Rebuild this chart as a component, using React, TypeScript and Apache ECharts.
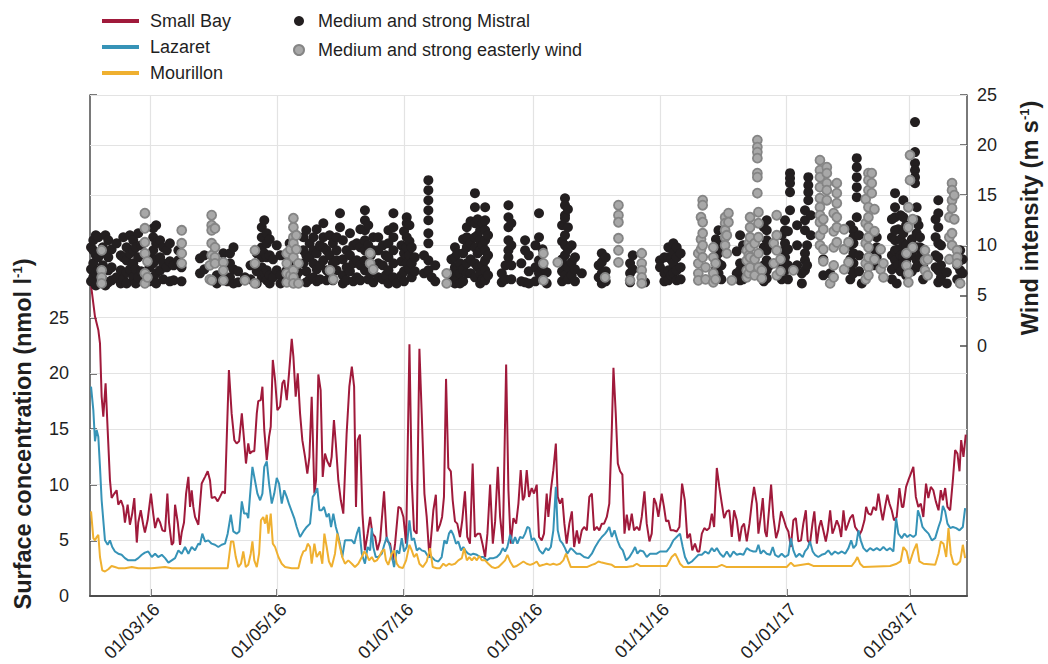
import React, { useEffect, useRef } from "react";
import * as echarts from "echarts";

// ---------- data ----------
// day offsets are counted from 01/02/2016 (UTC)
const START_DATE = "2016-02-01";
const X_MAX_DAYS = 421.7;

const xTickDates = ["2016-03-01", "2016-05-01", "2016-07-01", "2016-09-01", "2016-11-01", "2017-01-01", "2017-03-01"];
const leftTickValues = [0, 5, 10, 15, 20, 25];
const leftTickMarks = [0, 5, 10, 15, 20, 25, 45];
const leftGridValues = [5, 10, 15, 20, 25];
const rightTickValues = [0, 5, 10, 15, 20, 25];
const rightGridValues = [10, 15, 20, 25];

const seriesNames = ["Small Bay", "Lazaret", "Mourillon"];
const windNames = ["Medium and strong Mistral", "Medium and strong easterly wind"];

// [day, nmol l-1]
const smallBay: [number, number][] = [
  [0.5,27.9],[2.4,25.1],[4.0,23.9],[4.8,22.7],[5.6,17.9],[6.4,16.1],[7.5,19.1],[8.5,14.9],[9.6,10.4],[10.4,8.8],
  [11.7,9.2],[12.8,9.5],[13.6,8.2],[14.9,8.6],[16.0,8.0],[16.8,6.6],[18.1,8.2],[19.2,6.4],[20.3,7.4],[21.3,8.8],
  [22.5,4.8],[23.2,6.6],[24.4,7.7],[25.6,6.4],[26.4,5.7],[27.7,6.8],[29.3,9.2],[30.4,7.4],[31.3,6.1],[32.6,7.0],
  [33.7,6.6],[34.8,5.9],[36.1,5.8],[37.2,9.2],[38.0,6.6],[39.3,4.6],[40.1,4.8],[40.9,8.2],[42.2,6.6],[43.3,4.6],
  [44.1,5.7],[45.2,6.6],[46.2,9.2],[47.3,10.7],[48.1,8.0],[48.9,9.5],[49.7,8.0],[50.5,7.1],[52.1,6.4],[53.7,10.1],
  [55.3,10.7],[56.6,11.2],[57.7,10.4],[58.5,8.8],[60.1,8.9],[61.4,8.5],[62.5,8.9],[63.8,9.4],[64.9,9.2],[66.8,20.3],
  [68.1,16.4],[69.4,14.0],[70.5,13.7],[71.7,13.9],[73.0,16.4],[74.1,14.0],[75.0,11.9],[76.1,13.7],[76.9,12.8],[78.1,13.0],
  [79.0,13.0],[80.2,16.4],[80.9,17.5],[82.1,17.6],[82.9,18.8],[83.8,14.9],[85.0,12.2],[86.1,14.3],[86.9,15.2],[87.9,21.2],
  [89.0,19.4],[90.1,16.7],[91.4,17.0],[92.5,19.1],[93.4,19.4],[94.6,17.6],[95.7,20.0],[97.0,23.1],[97.8,21.5],[98.9,17.9],
  [99.9,20.0],[101.0,16.4],[102.1,14.0],[103.4,12.5],[104.5,11.0],[105.5,12.5],[106.6,17.9],[107.9,9.2],[108.7,10.4],[109.8,19.9],
  [110.9,18.5],[111.9,10.7],[113.0,12.8],[114.1,12.1],[115.4,11.6],[116.2,12.5],[117.3,15.8],[118.2,13.7],[119.4,10.4],[120.6,8.6],
  [121.8,7.4],[123.4,14.6],[124.7,18.8],[125.9,20.6],[127.0,18.8],[127.9,8.0],[128.7,14.0],[129.8,14.5],[131.0,7.4],[132.2,4.1],
  [133.5,5.6],[134.7,7.1],[135.8,5.6],[137.1,5.3],[138.2,4.1],[139.5,5.0],[141.4,9.4],[142.7,5.0],[144.3,4.7],[145.6,3.2],
  [146.7,4.7],[148.3,8.0],[149.4,7.9],[150.7,7.1],[152.0,4.7],[153.6,22.6],[154.7,10.4],[155.8,5.9],[157.1,5.6],[158.4,22.2],
  [159.5,16.4],[160.8,9.2],[161.9,7.1],[163.2,3.5],[164.3,5.9],[165.1,7.7],[166.3,9.1],[167.0,5.8],[168.3,6.4],[169.3,7.1],
  [170.2,8.9],[171.2,19.5],[172.3,11.5],[173.5,11.2],[174.4,8.6],[175.5,6.7],[176.6,6.5],[177.9,5.3],[179.0,6.8],[180.3,9.4],
  [181.4,5.3],[182.7,4.7],[184.0,11.9],[185.1,5.3],[186.4,5.6],[187.6,5.6],[188.7,4.7],[190.0,3.5],[191.1,5.6],[192.4,10.0],
  [193.7,4.7],[194.8,6.7],[196.1,11.6],[197.2,7.1],[198.5,4.7],[200.1,20.8],[201.2,9.5],[202.3,4.7],[203.6,7.0],[204.9,6.5],
  [206.0,8.3],[207.1,11.3],[208.1,8.6],[208.9,8.9],[210.0,11.3],[211.1,8.9],[212.4,9.7],[213.5,9.2],[214.8,10.0],[215.9,5.3],
  [217.2,5.0],[218.3,5.6],[219.6,9.2],[220.4,7.1],[221.6,9.5],[222.8,11.3],[224.0,13.7],[224.9,8.9],[226.0,8.3],[227.1,8.8],
  [228.1,6.5],[229.2,4.7],[230.5,6.5],[231.7,7.6],[232.8,4.4],[234.1,5.9],[235.2,4.7],[236.5,5.9],[237.6,6.2],[238.9,5.9],
  [240.1,8.9],[241.3,9.2],[242.4,5.9],[243.7,6.2],[244.9,5.9],[246.1,6.5],[247.2,6.5],[248.5,7.1],[249.7,8.3],[250.9,14.9],
  [251.7,20.5],[252.8,16.4],[253.8,11.9],[254.9,11.2],[256.0,10.9],[257.0,5.6],[258.1,7.3],[259.2,5.9],[260.5,7.4],[261.6,5.9],
  [262.9,6.2],[264.2,5.9],[265.3,7.1],[266.6,9.4],[267.7,6.5],[269.0,4.9],[270.1,5.6],[271.2,8.8],[272.2,8.3],[273.3,7.1],
  [274.9,9.2],[276.0,8.0],[277.0,6.7],[278.1,6.8],[279.2,5.9],[280.5,5.9],[282.1,5.8],[283.4,6.2],[284.7,10.1],[286.0,8.6],
  [287.2,5.2],[288.5,5.6],[289.6,4.1],[290.9,4.7],[292.1,4.0],[293.0,4.0],[294.2,5.6],[295.4,6.1],[296.6,5.9],[297.8,6.1],
  [299.0,7.4],[300.1,6.2],[301.4,11.5],[302.6,9.8],[303.8,8.3],[304.9,7.0],[306.2,7.6],[307.4,7.7],[308.6,5.3],[309.7,7.7],
  [311.0,6.8],[312.3,4.9],[313.4,6.2],[314.5,6.5],[315.8,4.9],[317.1,6.5],[318.2,8.3],[319.3,9.8],[320.6,8.3],[321.4,5.6],
  [322.5,7.1],[323.5,8.8],[324.6,5.8],[325.4,5.3],[326.5,7.7],[327.5,10.0],[328.6,7.1],[329.9,5.2],[331.0,5.9],[332.3,7.6],
  [333.4,7.0],[334.7,6.2],[335.8,5.8],[337.0,4.4],[338.2,6.8],[339.4,7.0],[340.6,4.9],[341.9,5.0],[343.0,6.5],[344.2,7.7],
  [345.1,5.0],[346.2,4.7],[347.4,6.5],[348.3,7.6],[349.5,4.7],[350.6,6.2],[351.5,6.8],[352.6,5.9],[353.8,4.9],[354.8,5.9],
  [355.9,7.7],[357.0,5.6],[358.0,6.1],[359.1,6.8],[360.3,6.2],[361.2,5.3],[362.3,7.7],[363.4,5.9],[364.4,6.4],[365.5,7.0],
  [366.8,7.3],[367.9,6.2],[369.0,5.9],[370.0,5.5],[371.1,5.9],[372.4,6.8],[373.2,8.0],[374.3,7.4],[375.6,7.3],[376.7,8.0],
  [378.0,7.7],[379.1,9.2],[380.3,7.7],[381.2,6.8],[382.3,8.0],[383.4,9.1],[384.4,8.3],[385.5,7.7],[386.6,6.8],[387.9,7.1],
  [389.2,9.7],[390.4,8.0],[391.1,8.0],[392.4,9.8],[393.5,10.4],[394.7,11.0],[395.9,11.6],[397.1,8.9],[398.3,8.0],[399.5,8.3],
  [400.7,7.1],[402.0,10.1],[403.1,8.8],[404.3,9.8],[405.5,9.5],[406.7,8.5],[408.0,7.7],[409.1,9.5],[410.1,8.6],[411.2,9.7],
  [412.3,8.0],[413.6,7.7],[414.9,10.4],[416.0,13.1],[417.1,12.8],[418.1,11.2],[418.9,14.0],[420.0,12.5],[421.1,14.5]
];

const lazaret: [number, number][] = [
  [0.5,18.8],[1.6,16.7],[2.4,13.9],[3.2,14.9],[4.0,14.3],[4.8,11.6],[5.6,8.6],[6.4,6.8],[7.2,5.0],[8.5,4.6],
  [9.6,5.0],[10.7,4.4],[12.0,4.0],[13.6,3.8],[15.2,3.7],[16.8,3.4],[18.4,3.2],[20.1,3.2],[21.6,3.2],[23.2,3.4],
  [24.9,3.7],[26.4,3.9],[28.0,4.0],[29.7,3.5],[31.3,3.8],[32.8,3.5],[34.5,3.7],[36.1,3.4],[37.7,3.0],[39.3,3.2],
  [40.9,3.4],[42.5,4.1],[44.1,3.8],[45.7,4.4],[47.3,3.8],[48.9,4.4],[50.5,4.1],[52.1,4.7],[52.9,4.6],[54.0,5.6],
  [55.3,4.9],[56.9,5.0],[58.5,4.7],[60.1,4.6],[61.7,4.4],[63.3,4.6],[64.9,4.7],[66.2,5.6],[67.7,7.3],[68.9,5.8],
  [70.5,5.6],[71.8,5.8],[73.0,8.5],[74.1,7.4],[75.4,7.4],[76.1,7.0],[76.9,8.9],[78.1,11.6],[79.3,10.4],[80.5,9.2],
  [81.8,8.6],[82.9,9.2],[83.8,11.6],[85.0,12.1],[86.1,10.1],[87.4,8.3],[88.6,9.2],[89.8,10.6],[90.9,10.1],[92.2,8.3],
  [93.4,9.5],[94.6,8.9],[95.8,8.2],[97.0,7.6],[98.2,7.0],[99.4,6.2],[101.0,5.3],[102.6,5.8],[104.2,6.2],[105.8,6.5],
  [107.1,8.9],[108.2,9.2],[109.3,9.7],[110.3,7.7],[111.4,7.7],[112.5,8.0],[113.8,7.1],[114.9,7.4],[115.9,6.2],[117.0,7.4],
  [118.2,6.2],[119.1,5.6],[120.2,4.7],[121.3,3.5],[122.6,5.0],[124.2,5.0],[125.9,5.0],[127.1,4.7],[128.3,5.6],[129.4,6.2],
  [130.7,3.8],[132.2,2.9],[133.5,4.4],[134.7,4.1],[135.5,6.1],[136.2,4.4],[137.4,3.5],[138.6,3.5],[140.3,3.8],[141.5,4.6],
  [142.7,5.3],[144.3,4.4],[146.2,2.6],[147.5,4.1],[148.7,3.8],[149.9,5.2],[151.0,4.0],[152.3,4.4],[153.6,6.8],[154.7,5.0],
  [155.8,5.2],[157.1,4.1],[158.4,4.3],[159.5,4.1],[161.1,4.0],[162.7,3.5],[164.3,3.5],[165.9,3.2],[167.5,3.1],[169.1,3.5],
  [170.4,5.0],[171.5,4.7],[172.6,5.6],[173.6,5.9],[174.7,5.5],[176.0,4.7],[177.1,4.9],[178.4,4.1],[179.5,4.4],[180.8,4.0],
  [181.9,3.8],[183.1,3.7],[184.3,3.8],[186.0,3.7],[187.6,3.5],[189.1,3.5],[190.8,3.2],[192.4,3.4],[194.0,3.4],[195.6,3.5],
  [197.2,3.8],[198.5,4.3],[199.6,4.0],[200.7,4.4],[202.0,5.5],[203.3,4.7],[204.4,5.3],[205.5,4.7],[206.8,5.3],[208.1,5.2],
  [209.2,5.6],[210.3,6.2],[211.3,6.1],[212.4,5.0],[213.5,5.2],[214.8,4.7],[216.1,4.1],[217.7,3.8],[219.3,4.3],[220.4,4.1],
  [221.6,4.4],[222.8,5.9],[224.0,9.8],[224.9,5.9],[226.0,5.0],[227.3,4.7],[228.4,4.3],[229.5,3.8],[231.2,4.3],[232.4,4.1],
  [234.0,3.8],[235.6,3.8],[237.6,3.5],[239.6,3.4],[241.3,3.8],[242.9,4.4],[244.5,4.9],[246.1,5.3],[247.7,5.6],[248.8,5.9],
  [249.7,6.2],[250.9,5.3],[252.2,5.9],[253.6,5.0],[254.9,4.4],[256.2,4.1],[257.8,3.2],[259.4,3.5],[261.0,4.0],[262.1,4.4],
  [263.2,3.8],[264.5,4.1],[266.1,4.0],[267.7,3.5],[269.3,3.8],[270.9,3.8],[272.5,3.8],[274.1,4.0],[275.7,4.0],[277.3,4.0],
  [278.9,4.4],[280.5,5.0],[282.1,5.3],[283.7,5.6],[285.0,4.4],[286.1,3.5],[287.7,2.9],[289.4,3.1],[291.0,3.4],[292.6,3.7],
  [294.2,3.7],[295.8,4.0],[297.4,3.8],[299.0,4.3],[300.2,4.0],[301.4,4.3],[303.0,3.8],[304.6,3.5],[306.2,4.0],[307.8,3.5],
  [309.4,4.0],[311.0,3.7],[312.6,3.8],[314.2,3.7],[315.8,4.3],[317.4,4.1],[319.0,4.0],[320.3,4.0],[321.4,4.6],[322.5,3.8],
  [323.8,4.1],[325.4,3.8],[327.0,3.7],[328.3,4.4],[329.4,3.7],[331.0,3.5],[332.6,3.8],[334.2,3.5],[335.8,3.7],[337.0,5.2],
  [338.2,4.1],[339.5,3.5],[341.1,3.8],[342.7,3.5],[343.8,4.0],[345.1,4.3],[346.2,4.9],[347.5,4.0],[348.6,3.7],[350.2,3.5],
  [351.8,3.7],[353.4,3.8],[355.0,4.1],[356.6,3.7],[358.2,4.0],[359.8,3.8],[361.5,4.0],[363.1,3.8],[364.7,4.3],[366.0,5.0],
  [367.1,4.3],[368.4,4.6],[369.5,5.9],[370.6,5.0],[371.9,4.3],[373.5,4.0],[375.1,4.3],[376.7,4.1],[378.3,4.3],[379.9,4.1],
  [381.5,4.4],[383.1,4.1],[384.7,4.3],[386.3,4.0],[387.6,7.0],[388.7,5.6],[390.3,5.2],[391.6,5.6],[393.0,5.3],[394.3,5.5],
  [395.9,5.3],[397.1,5.5],[398.1,7.7],[399.2,7.1],[400.3,6.2],[401.6,5.9],[403.2,5.6],[404.8,5.0],[406.4,5.2],[408.0,6.2],
  [409.1,6.8],[410.1,8.1],[411.2,7.6],[412.3,6.5],[413.6,6.1],[414.9,6.2],[416.5,6.1],[418.1,5.9],[419.7,6.2],[420.8,7.9]
];

const mourillon: [number, number][] = [
  [0.5,7.6],[1.6,5.2],[2.4,5.0],[3.2,5.3],[4.0,5.5],[4.8,3.5],[5.9,2.3],[7.2,2.2],[8.8,2.4],[10.4,2.7],
  [12.0,2.6],[13.6,2.5],[16.8,2.5],[20.1,2.6],[23.2,2.5],[29.7,2.5],[36.1,2.6],[39.3,2.5],[45.7,2.5],[52.1,2.5],
  [58.5,2.5],[63.3,2.5],[66.2,2.5],[67.8,4.9],[68.9,4.9],[70.1,3.5],[71.3,2.6],[72.6,2.9],[73.7,4.0],[74.9,2.6],
  [76.1,2.8],[77.3,3.8],[78.1,4.9],[79.0,3.2],[80.2,2.6],[81.3,3.8],[82.2,6.8],[83.3,7.1],[84.2,6.5],[85.0,7.3],
  [85.8,5.6],[86.9,7.4],[87.9,4.7],[89.0,4.4],[90.6,3.5],[92.2,2.9],[93.8,2.6],[97.0,2.5],[100.2,2.5],[101.5,3.5],
  [102.6,4.0],[103.7,4.1],[104.7,4.7],[105.8,4.4],[106.6,2.9],[107.9,4.7],[109.0,3.5],[110.6,4.0],[111.7,2.9],[112.7,5.6],
  [113.8,4.4],[114.9,3.1],[116.2,2.6],[117.8,3.8],[118.9,5.6],[120.2,4.4],[121.3,3.5],[122.6,2.9],[124.2,3.2],[125.9,2.9],
  [127.4,2.6],[129.0,2.9],[130.7,3.5],[131.9,4.0],[133.1,3.7],[134.2,3.2],[135.5,3.5],[136.7,3.1],[137.9,3.2],[139.0,3.5],
  [140.3,4.0],[141.5,4.2],[142.3,3.2],[143.4,2.8],[145.1,3.8],[146.2,4.1],[147.5,2.9],[148.7,2.6],[150.4,2.5],[152.0,3.2],
  [153.6,4.6],[154.7,4.1],[155.8,3.5],[157.1,3.8],[158.4,2.9],[160.0,2.6],[161.9,3.1],[163.5,4.3],[164.8,2.6],[166.7,2.5],
  [168.3,2.5],[169.9,2.9],[171.2,2.7],[172.6,2.9],[173.9,2.8],[175.5,2.9],[177.1,3.2],[178.8,3.4],[179.9,4.3],[181.2,3.2],
  [182.4,3.5],[183.6,3.2],[184.8,3.5],[186.0,3.2],[187.2,3.6],[188.4,3.2],[190.0,3.2],[191.5,2.9],[193.2,2.6],[194.8,2.5],
  [196.4,2.6],[198.0,2.9],[199.6,3.2],[200.7,3.7],[202.0,3.1],[203.6,2.6],[205.2,2.7],[206.8,2.9],[208.4,3.1],[210.0,2.9],
  [211.6,2.8],[213.2,2.9],[214.8,3.1],[216.1,2.7],[218.0,2.8],[219.6,2.9],[221.2,2.8],[222.8,2.9],[224.4,2.8],[226.0,2.9],
  [227.6,3.2],[228.9,3.8],[230.0,3.2],[231.2,2.6],[233.2,2.6],[235.6,2.6],[238.9,2.6],[241.3,2.8],[242.9,2.9],[244.5,3.1],
  [246.1,3.0],[248.5,2.9],[250.9,2.8],[252.5,2.6],[258.1,2.6],[261.3,2.7],[262.9,2.9],[264.5,2.7],[270.9,2.7],[277.3,2.7],
  [279.7,3.5],[281.4,3.8],[282.5,3.4],[283.7,2.9],[285.3,2.6],[294.9,2.6],[301.4,2.6],[303.8,2.8],[306.2,2.6],[320.6,2.6],
  [335.0,2.6],[337.0,3.0],[338.6,2.7],[345.4,2.9],[347.8,2.7],[366.3,2.7],[367.9,3.1],[369.0,3.5],[370.3,2.9],[371.9,2.6],
  [384.7,2.7],[387.9,2.9],[389.8,3.1],[391.1,4.4],[392.7,4.0],[394.0,2.9],[395.9,4.0],[397.5,4.7],[398.8,3.1],[400.7,2.9],
  [406.4,2.8],[408.0,3.8],[409.1,4.9],[410.4,4.7],[411.7,3.5],[412.8,6.1],[413.9,3.8],[415.2,2.9],[416.8,2.8],[418.4,3.1],
  [419.7,4.6],[420.8,3.4]
];

// wind: [day, [m s-1 values recorded that day]]
const mistral: [number, number[]][] = [
  [0.5,[9.8,7.6,6.4]],[1.6,[10.5,9.5,8.2,6.8]],[2.8,[11.0,9.0,7.2,6.0]],[4.0,[10.8,8.8,7.5]],[6.2,[9.8,8.0,6.6]],
  [7.4,[11.0,9.2,6.0]],[8.8,[10.5,8.8,7.5,6.3]],[10.4,[9.6,7.8,6.5]],[12.8,[10.2,6.8]],[14.8,[9.0,7.5,6.2]],
  [16.0,[10.8,8.8,6.6]],[17.6,[9.8,8.5,7.3,6.2]],[19.2,[11.0,9.2,7.6]],[20.8,[10.5,9.5,8.2,6.8]],[22.0,[9.8,7.6,6.2]],
  [23.2,[11.2,8.8,6.8]],[24.6,[10.0,7.4]],[28.6,[9.0,7.8,6.4]],[30.4,[11.7,10.8,9.5,8.2,6.8]],[31.8,[12.0,10.2,8.6,7.2,6.2]],
  [33.7,[10.5,8.8,7.5]],[35.2,[9.8,8.2,6.6]],[36.9,[9.5,7.8]],[38.4,[10.2,8.4,6.4]],[40.2,[8.0,6.5]],[42.5,[9.5,8.5]],
  [44.0,[7.8,6.4]],[52.9,[8.7,7.2]],[55.0,[9.0,7.6]],[61.0,[7.0,6.2]],[64.1,[9.2,6.8]],[66.0,[8.0,6.4]],[67.3,[9.2,8.2,6.8]],
  [69.0,[9.8,7.6,6.2]],[71.2,[7.4,6.3]],[74.5,[6.8]],[77.2,[8.0,6.6]],[80.2,[9.2,7.4,6.2]],
  [82.6,[11.8,10.8,9.8,8.8,7.8,6.8]],[83.8,[12.5,9.2,7.2]],[85.0,[11.2,10.2,8.8,7.5,6.5]],[86.4,[10.6,9.0,7.0,6.2]],
  [88.0,[8.6,6.8]],[89.8,[10.0,7.5]],[91.6,[9.0,7.0,6.2]],[94.6,[8.8,7.5]],[96.0,[10.2,8.0,6.6]],[99.0,[9.6,6.8]],[100.2,[7.3]],
  [102.6,[10.8,9.5,8.2]],[104.0,[11.5,9.0,7.4,6.3]],[105.6,[10.2,8.8,6.6]],[107.4,[10.8,9.5,8.2,6.8]],[109.0,[11.6,9.2,7.6,6.4]],
  [110.6,[10.0,8.0,6.6]],[112.2,[12.2,10.8,9.8,8.5]],[113.8,[9.5,7.5,6.5]],[115.2,[11.0,9.0,7.2]],[116.8,[10.2,8.2,6.5]],
  [118.6,[10.8,9.5,8.5,7.5]],[120.2,[13.2,11.8]],[121.6,[10.5,8.6,7.0,6.2]],[123.4,[9.5,7.8,6.5]],[125.0,[11.2,9.0,7.4]],
  [126.6,[10.0,8.2,6.4]],[128.3,[10.2,8.5,6.8]],[130.0,[11.6,9.8,8.0,6.5]],[132.2,[13.5,12.5,11.5,10.5,9.5,8.5,7.5]],
  [133.8,[12.0,10.0,8.0,6.6]],[135.0,[9.0,7.2]],[136.2,[10.8,9.5,7.8,6.3]],[138.6,[10.8,9.5,8.2,6.8]],[140.8,[10.0,8.0,6.6]],
  [142.2,[9.0,7.0]],[143.5,[11.5,10.2,8.8,7.5,6.2]],[145.9,[13.2,11.8,10.8,9.5,8.2,6.8]],[147.5,[6.2]],[149.8,[10.0,8.4,7.0]],
  [151.0,[11.4,9.2,7.4,6.4]],[152.3,[12.8,12.2,10.8,9.8,8.8,8.2]],[153.6,[12.0,10.4,9.0,7.6]],[154.7,[9.8,8.2,6.8]],
  [156.2,[8.8,7.4]],[160.6,[9.0,7.2]],[162.7,[16.5,15.5,14.5,13.5,12.5,11.2,10.2,8.5,7.5]],[164.3,[6.8]],[166.0,[8.0,6.4]],
  [173.8,[8.6,7.2,6.4]],[175.5,[9.8,8.8,7.8,6.8,6.2]],[176.6,[9.2,7.6,6.6]],[177.9,[8.2,7.2,6.2]],[179.4,[10.6,9.2,7.6,6.4]],
  [181.2,[11.8,10.8,9.8,8.2,7.2]],[183.0,[12.4,10.2,8.6,7.2]],[185.1,[15.2,13.8,12.2,10.8,9.8,8.2,6.8]],[186.4,[12.6,11.0,9.2,7.8]],
  [187.6,[11.5,10.5,9.5,7.2,6.2]],[188.8,[12.2,10.0,8.0,6.6]],[190.0,[13.8,12.5,11.5,10.5,9.5,8.5,7.5,6.5]],[191.4,[11.0,9.0,7.0]],
  [198.0,[7.2,6.3]],[199.8,[8.0,6.6]],[201.2,[14.0,12.8,11.8,10.5,9.5,8.8]],[202.6,[12.2,10.0,8.0,6.6]],[207.4,[8.2,6.4]],
  [209.2,[10.5,9.5,6.3]],[211.0,[9.0,7.4,6.2]],[214.2,[10.0,7.8,6.4]],[215.9,[13.2,10.8,8.5,7.2]],[217.6,[9.6,7.8]],
  [219.6,[7.3,6.2]],[227.0,[12.0,10.4,8.6,7.4,6.4]],[228.4,[14.7,14.0,13.0,12.7,11.0,10.0,9.0,8.0,7.0]],
  [229.8,[13.6,11.8,9.6,7.8,6.6]],[231.6,[10.0,8.3,7.0]],[233.2,[8.8,7.6,6.4]],[236.5,[7.2]],[244.6,[8.0,6.8]],
  [246.1,[9.2,8.3,7.2,6.2]],[248.0,[8.8,7.4,6.4]],[259.7,[8.2,7.2,6.3]],[261.0,[9.0,7.6]],[266.9,[6.3]],[274.1,[8.5,7.8]],
  [276.2,[8.8,7.2,6.4]],[278.1,[9.8,8.8,7.5,6.5]],[279.4,[8.6,7.0]],[280.5,[10.2,9.2,8.2,7.2]],[282.1,[9.8,8.8,7.5,6.5]],
  [284.0,[9.2,7.8,6.6]],[301.0,[10.6,8.8,7.6]],[302.2,[11.5,10.2,9.2,8.2,7.2]],[303.6,[9.6,8.0,6.6]],[311.0,[9.4,7.2]],
  [312.6,[11.0,8.2,7.5,6.5]],[314.0,[10.0,8.0,6.6]],[324.0,[11.8,9.8,8.0,6.4]],[325.4,[12.5,11.5,10.5,9.5,8.5,7.5,6.7]],
  [326.8,[10.0,8.0]],[332.6,[11.0,9.4,7.8,6.6]],[334.2,[12.5,11.5,10.2,8.8,8.2,7.5]],[335.6,[11.4,9.6,8.0,6.6]],
  [336.6,[17.2,16.7,16.2,15.3,13.5]],[340.0,[12.0,10.0,8.0]],[342.3,[7.2,6.2]],[343.8,[13.5,12.5,11.5,9.2,8.5,7.5]],
  [344.8,[10.0,8.0]],[345.4,[16.8,16.0,15.3,14.5]],[346.6,[13.0,11.0]],[352.6,[8.6,7.0]],[355.9,[7.2]],
  [365.6,[12.0,10.0,8.6,7.6,6.6]],[367.1,[11.5,10.8,10.2,9.2,8.2,7.2]],[368.7,[18.7,17.8,16.8,15.8,14.8,12.8]],
  [369.8,[11.0,9.0,7.4]],[371.1,[6.2]],[377.0,[9.6,8.0]],[378.3,[10.8,9.8,8.8]],[385.6,[12.6,10.8,9.0,7.6,6.6]],
  [387.1,[15.2,13.8,12.8,11.5,10.5,9.5,8.5,7.8]],[387.9,[6.2]],[388.6,[11.6,9.6,8.0]],[389.8,[13.0,10.6,9.0,7.4]],
  [391.1,[14.5,12.8,11.2,10.2,8.8,8.2]],[392.4,[12.0,10.0,8.4,7.0]],[395.2,[10.6,9.0,7.4]],[396.7,[22.3,19.3,18.2,17.5,16.8,16.2]],
  [397.5,[13.8,12.5,11.2,9.8,8.5,7.8]],[398.4,[12.0,9.6,8.0]],[399.1,[10.8,9.8,8.8]],[400.6,[9.6,8.0,6.6]],
  [406.6,[12.6,10.8,9.0,7.8]],[407.9,[14.5,13.2,11.8,10.2,8.8,7.5,6.3]],[409.2,[10.0,8.0,6.8]],[412.0,[7.3,6.2]],
  [417.0,[8.0,6.6]],[418.4,[9.5,8.5,7.5]],[419.6,[8.6,7.2]]
];

const easterly: [number, number[]][] = [
  [5.6,[9.5,7.5,6.8,6.2]],[26.4,[13.2,11.7,10.3,9.2,7.2,6.2]],[27.6,[8.4,6.8]],[44.1,[11.5,10.2,9.2,8.2]],[57.6,[8.0,6.6]],
  [58.5,[13.0,12.0,11.5,10.2,9.0,6.5]],[60.1,[11.7,9.8,8.8,8.2]],[64.1,[8.3,7.5,6.5]],[74.5,[6.5]],[79.3,[9.5,8.2,6.2]],
  [94.6,[9.2,8.2,7.2,6.3]],[96.4,[9.6,7.0]],[97.8,[12.7,11.8,10.8,10.2,8.8,7.5,6.8,6.2]],[99.2,[11.0,9.6]],[100.2,[8.2,6.2]],
  [115.4,[7.5]],[117.0,[6.6]],[134.7,[9.2,8.2]],[136.2,[7.6]],[171.5,[7.2,6.2]],
  [218.0,[9.2,8.2,6.5]],[224.9,[8.3]],[247.7,[6.8]],[254.1,[14.0,13.0,12.3,10.7,9.5,8.3]],[259.7,[6.5]],
  [265.3,[9.2,8.2,7.5,6.8,6.2]],[292.5,[9.2,8.2,7.2,6.5]],[293.8,[12.8,10.6,9.6]],[294.6,[14.5,14.0,12.3,11.2,10.0,8.8]],
  [296.0,[7.8,6.6]],[299.7,[9.8,8.8,7.2,6.3]],[300.8,[8.2,6.6]],[305.4,[12.8,12.2,11.5,10.8,10.0]],[306.2,[11.0,9.2]],
  [307.0,[13.2,12.3]],[308.6,[6.5]],[315.8,[9.5,8.5,7.5,6.8]],[316.8,[10.2,9.0,7.2]],[317.4,[12.8,11.8,10.8,9.8,8.8,7.8]],
  [319.6,[10.2,8.6,7.0]],[320.9,[20.5,19.8,19.3,18.7,17.2,16.8,15.2]],[321.4,[13.3,12.2,10.8,9.2,7.8]],[323.0,[7.5,6.7]],
  [328.8,[10.2,8.2]],[330.2,[13.0,11.0,9.5,7.0]],[332.0,[8.6,7.4]],[338.2,[7.5]],
  [351.0,[18.5,17.5,16.8,15.8,14.7,13.8,13.0,12.3,11.0,10.0]],[352.6,[12.6,11.6,9.6,8.4]],[354.3,[17.8,17.2,16.2,15.5,14.5]],
  [355.9,[6.2]],[357.6,[13.2,11.4,9.8,8.0,6.8]],[359.1,[16.2,15.2,14.2,12.8,11.8,10.3]],[362.6,[11.6,9.6,7.6]],
  [364.7,[10.3,8.3]],[373.0,[14.6,12.2,10.2,8.2,6.6]],[374.3,[17.2,16.5,15.5,13.8,12.8,11.8,10.8,9.8,8.8,7.8,7.0]],
  [375.9,[17.2,16.2,15.2]],[377.2,[13.6,11.4,8.6]],[380.2,[9.6,7.6]],[381.5,[8.2,6.8]],[392.6,[9.2,8.0]],
  [393.5,[13.8,11.8,7.2,6.3]],[394.3,[19.0,16.5]],[395.6,[12.6,9.8]],[401.5,[9.5,8.5,7.5]],[402.8,[8.6,7.0]],
  [413.2,[12.8,10.8,8.6]],[414.5,[16.2,15.5,14.5,13.7,11.2,10.0]],[415.6,[15.0,12.6]],[416.9,[9.5,8.8,8.2]],[418.4,[6.2]]
];

// ---------- helpers ----------
const DAY_MS = 86400000;
const parseDate = (s: string) => {
  const [y, m, d] = s.split("-").map(Number);
  return Date.UTC(y, m - 1, d);
};
const START = parseDate(START_DATE);
const toTime = (day: number) => START + day * DAY_MS;
const xTicks = xTickDates.map(parseDate);
const pad2 = (n: number) => (n < 10 ? "0" + n : "" + n);
const fmtDate = (v: number) => {
  const d = new Date(v);
  return pad2(d.getUTCDate()) + "/" + pad2(d.getUTCMonth() + 1) + "/" + pad2(d.getUTCFullYear() % 100);
};
const linePts = (arr: [number, number][]) => arr.map(([d, v]) => [toTime(d), v]);
const windPts = (arr: [number, number[]][]) => {
  const out: number[][] = [];
  arr.forEach(([d, vals]) => vals.forEach((v) => out.push([toTime(d), v])));
  return out;
};

const FONT = "'Liberation Sans', Arial, Helvetica, sans-serif";
const RED = "#a01a3b";
const BLUE = "#3693b7";
const YELLOW = "#efb030";
const GRID = "#e3e3e3";
const AXIS = "#4d4d4d";
const TXT = "#1f1f1f";

export default function App() {
  const ref = useRef<HTMLDivElement>(null);
  useEffect(() => {
    if (!ref.current) return;
    const chart = echarts.init(ref.current, null, { renderer: "svg" });
    const gridMark = (data: any[]) => ({
      silent: true,
      symbol: "none",
      z: 1,
      animation: false,
      label: { show: false },
      emphasis: { disabled: true },
      lineStyle: { color: GRID, width: 1.2, type: "solid" },
      data,
    });
    chart.setOption({
      animation: false,
      textStyle: { fontFamily: FONT },
      grid: { left: 90, right: 81, top: 95, bottom: 68, outerBoundsMode: "none" },
      legend: [
        {
          data: seriesNames,
          orient: "vertical",
          left: 97,
          top: 7,
          itemWidth: 37,
          itemHeight: 4,
          itemGap: 8,
          icon: "rect",
          selectedMode: false,
          textStyle: { fontSize: 18, color: TXT, fontFamily: FONT, padding: [0, 0, 0, 6] },
        },
        {
          data: windNames,
          orient: "vertical",
          left: 288,
          top: 7,
          itemWidth: 10,
          itemHeight: 10,
          itemGap: 11,
          icon: "circle",
          selectedMode: false,
          textStyle: { fontSize: 18, color: TXT, fontFamily: FONT, padding: [0, 0, 0, 9] },
        },
      ],
      xAxis: {
        type: "value",
        min: START,
        max: toTime(X_MAX_DAYS),
        axisLine: { show: true, onZero: false, lineStyle: { color: AXIS, width: 2 } },
        axisTick: { show: true, inside: true, length: 7, customValues: xTicks, lineStyle: { color: AXIS, width: 1.5 } },
        axisLabel: {
          customValues: xTicks,
          rotate: 45,
          margin: 4,
          verticalAlign: "top",
          formatter: (v: number) => fmtDate(v),
          fontSize: 18,
          color: TXT,
          fontFamily: FONT,
        },
        splitLine: { show: false },
      },
      yAxis: [
        {
          type: "value",
          position: "left",
          min: 0,
          max: 45,
          interval: 5,
          axisLine: { show: true, onZero: false, lineStyle: { color: AXIS, width: 1.5 } },
          axisTick: { show: true, inside: true, length: 7, customValues: leftTickMarks, lineStyle: { color: AXIS, width: 1.5 } },
          axisLabel: {
            customValues: leftTickValues,
            margin: 21,
            formatter: (v: number) => (v <= 25 ? String(v) : ""),
            fontSize: 18,
            color: TXT,
            fontFamily: FONT,
          },
          splitLine: { show: false },
        },
        {
          type: "value",
          position: "right",
          min: -25,
          max: 25,
          interval: 5,
          axisLine: { show: true, onZero: false, lineStyle: { color: AXIS, width: 1.5 } },
          axisTick: { show: true, inside: true, length: 7, customValues: rightTickValues, lineStyle: { color: AXIS, width: 1.5 } },
          axisLabel: {
            customValues: rightTickValues,
            margin: 10,
            formatter: (v: number) => (v >= 0 ? String(v) : ""),
            fontSize: 18,
            color: TXT,
            fontFamily: FONT,
          },
          splitLine: { show: false },
        },
      ],
      series: [
        {
          name: "Small Bay",
          type: "line",
          yAxisIndex: 0,
          data: linePts(smallBay),
          symbol: "none",
          showSymbol: false,
          z: 3,
          color: RED,
          lineStyle: { color: RED, width: 2 },
          markLine: gridMark([...xTicks.map((x) => ({ xAxis: x })), ...leftGridValues.map((v) => ({ yAxis: v }))]),
        },
        {
          name: "Lazaret",
          type: "line",
          yAxisIndex: 0,
          data: linePts(lazaret),
          symbol: "none",
          showSymbol: false,
          z: 3,
          color: BLUE,
          lineStyle: { color: BLUE, width: 2 },
        },
        {
          name: "Mourillon",
          type: "line",
          yAxisIndex: 0,
          data: linePts(mourillon),
          symbol: "none",
          showSymbol: false,
          z: 3,
          color: YELLOW,
          lineStyle: { color: YELLOW, width: 2 },
        },
        {
          name: windNames[0],
          type: "scatter",
          yAxisIndex: 1,
          data: windPts(mistral),
          symbolSize: 10,
          z: 4,
          itemStyle: { color: "#231f20", opacity: 1 },
          markLine: gridMark(rightGridValues.map((v) => ({ yAxis: v }))),
        },
        {
          name: windNames[1],
          type: "scatter",
          yAxisIndex: 1,
          data: windPts(easterly),
          symbolSize: 9,
          z: 5,
          itemStyle: { color: "#a8a8a8", borderColor: "#858585", borderWidth: 1.8, opacity: 1 },
        },
      ],
      graphic: [
        {
          type: "text",
          x: 23,
          y: 434,
          rotation: Math.PI / 2,
          style: {
            text: "{m|Surface concentration (nmol l}{s|-1}{m|)}",
            align: "center",
            verticalAlign: "middle",
            fill: TXT,
            rich: {
              m: { fontSize: 23.5, fontWeight: "bold", fontFamily: FONT, fill: TXT },
              s: { fontSize: 13, fontWeight: "bold", fontFamily: FONT, fill: TXT, verticalAlign: "top" },
            },
          },
        },
        {
          type: "text",
          x: 1030,
          y: 218,
          rotation: Math.PI / 2,
          style: {
            text: "{m|Wind intensity (m s}{s|-1}{m|)}",
            align: "center",
            verticalAlign: "middle",
            fill: TXT,
            rich: {
              m: { fontSize: 23.5, fontWeight: "bold", fontFamily: FONT, fill: TXT },
              s: { fontSize: 13, fontWeight: "bold", fontFamily: FONT, fill: TXT, verticalAlign: "top" },
            },
          },
        },
      ],
    });
    return () => chart.dispose();
  }, []);
  return <div ref={ref} style={{ position: "absolute", left: 0, top: 0, width: 1048, height: 664 }} />;
}
